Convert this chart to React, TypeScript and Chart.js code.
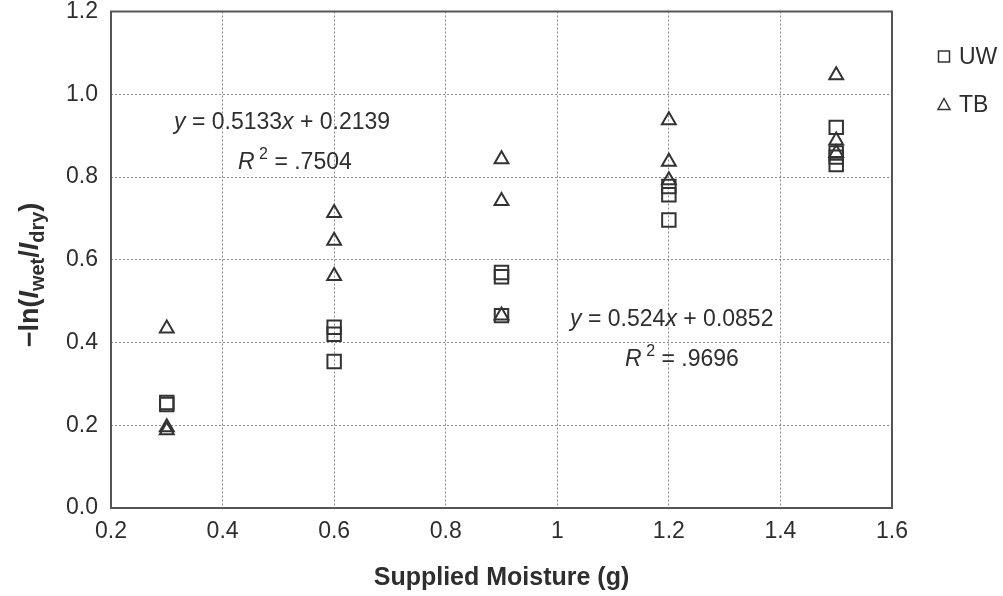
import React, { useEffect, useRef } from 'react';
import { Chart, registerables } from 'chart.js';

Chart.register(...registerables);

const seriesNames = ['UW', 'TB'];
const moistureUW = [0.3, 0.3, 0.6, 0.6, 0.6, 0.9, 0.9, 0.9, 1.2, 1.2, 1.2, 1.5, 1.5, 1.5, 1.5];
const valuesUW = [0.255, 0.25, 0.437, 0.42, 0.354, 0.569, 0.559, 0.465, 0.777, 0.757, 0.696, 0.92, 0.858, 0.848, 0.83];
const moistureTB = [0.3, 0.3, 0.3, 0.6, 0.6, 0.6, 0.9, 0.9, 0.9, 1.2, 1.2, 1.2, 1.5, 1.5, 1.5];
const valuesTB = [0.434, 0.195, 0.188, 0.713, 0.646, 0.561, 0.843, 0.742, 0.465, 0.937, 0.837, 0.792, 1.046, 0.888, 0.858];

const xMin = 0.2, xMax = 1.6, xStep = 0.2;
const yMin = 0, yMax = 1.2, yStep = 0.2;

const xTitle = 'Supplied Moisture (g)';
// fit annotations: [slope, intercept, r2] and anchor positions in data units
const fitTB = ['0.5133', '0.2139', '.7504'];
const fitUW = ['0.524', '0.0852', '.9696'];
const fitTBAnchor = [0.313, 0.916];
const fitUWAnchor = [1.023, 0.441];

const FONT = '"Liberation Sans", Arial, sans-serif';
const INK = '#2e2e2e';

type Seg = { t: string; italic?: boolean; bold?: boolean; size: number; dy?: number };

function segFont(s: Seg) {
  return `${s.italic ? 'italic ' : ''}${s.bold ? 'bold ' : ''}${s.size}px ${FONT}`;
}
function richWidth(ctx: CanvasRenderingContext2D, segs: Seg[]) {
  let w = 0;
  for (const s of segs) { ctx.font = segFont(s); w += ctx.measureText(s.t).width; }
  return w;
}
function drawRich(ctx: CanvasRenderingContext2D, segs: Seg[], x: number, y: number) {
  let cx = x;
  for (const s of segs) {
    ctx.font = segFont(s);
    ctx.fillText(s.t, cx, y + (s.dy || 0));
    cx += ctx.measureText(s.t).width;
  }
}

const decorPlugin = {
  id: 'decor',
  afterDraw(chart: any) {
    const ctx: CanvasRenderingContext2D = chart.ctx;
    const { left, right, top, bottom } = chart.chartArea;
    const xs = chart.scales.x, ys = chart.scales.y;
    ctx.save();
    // frame
    ctx.strokeStyle = '#555';
    ctx.lineWidth = 2;
    ctx.strokeRect(left, top, right - left, bottom - top);

    ctx.fillStyle = INK;
    ctx.textBaseline = 'alphabetic';
    ctx.textAlign = 'left';
    const fs = 23;
    const drawFit = (fit: string[], anchor: number[], r2dx: number) => {
      const ax = xs.getPixelForValue(anchor[0]);
      const ay = ys.getPixelForValue(anchor[1]);
      drawRich(ctx, [
        { t: 'y', italic: true, size: fs },
        { t: ` = ${fit[0]}`, size: fs },
        { t: 'x', italic: true, size: fs },
        { t: ` + ${fit[1]}`, size: fs },
      ], ax, ay);
      drawRich(ctx, [
        { t: 'R', italic: true, size: fs },
        { t: ' 2', size: 16, dy: -10 },
        { t: ` = ${fit[2]}`, size: fs },
      ], ax + r2dx, ay + 40);
    };
    drawFit(fitTB, fitTBAnchor, 64);
    drawFit(fitUW, fitUWAnchor, 55);

    // legend
    const lx = right + 52;
    ctx.strokeStyle = '#333';
    ctx.lineWidth = 1.5;
    ctx.strokeRect(lx - 5.5, top + 45 - 5.5, 11, 11);
    ctx.beginPath();
    ctx.moveTo(lx, top + 93 - 6);
    ctx.lineTo(lx + 6, top + 93 + 5);
    ctx.lineTo(lx - 6, top + 93 + 5);
    ctx.closePath();
    ctx.stroke();
    ctx.font = `23px ${FONT}`;
    ctx.textBaseline = 'middle';
    ctx.fillText(seriesNames[0], lx + 15, top + 46);
    ctx.fillText(seriesNames[1], lx + 15, top + 94);

    // x title
    ctx.textAlign = 'center';
    ctx.textBaseline = 'middle';
    ctx.font = `bold 25px ${FONT}`;
    ctx.fillText(xTitle, (left + right) / 2, 578);

    // y title (rotated, rich)
    const ySegs: Seg[] = [
      { t: '\u2212ln(', bold: true, size: 27 },
      { t: 'I', bold: true, italic: true, size: 27 },
      { t: 'wet', bold: true, size: 20, dy: 6 },
      { t: '/', bold: true, size: 27 },
      { t: 'I', bold: true, italic: true, size: 27 },
      { t: 'dry', bold: true, size: 20, dy: 6 },
      { t: ')', bold: true, size: 27 },
    ];
    ctx.textAlign = 'left';
    ctx.textBaseline = 'alphabetic';
    const w = richWidth(ctx, ySegs);
    ctx.translate(38, 275);
    ctx.rotate(-Math.PI / 2);
    drawRich(ctx, ySegs, -w / 2, 0);
    ctx.restore();
  },
};

export default function App() {
  const ref = useRef<HTMLCanvasElement>(null);
  useEffect(() => {
    if (!ref.current) return;
    const chart = new Chart(ref.current, {
      type: 'scatter',
      data: {
        datasets: [
          {
            label: seriesNames[0],
            data: moistureUW.map((x, i) => ({ x, y: valuesUW[i] })),
            pointStyle: 'rect',
            pointRadius: 9.5,
            borderColor: '#333',
            borderWidth: 2,
            backgroundColor: 'rgba(0,0,0,0)',
          },
          {
            label: seriesNames[1],
            data: moistureTB.map((x, i) => ({ x, y: valuesTB[i] })),
            pointStyle: 'triangle',
            pointRadius: 8,
            borderColor: '#333',
            borderWidth: 2,
            backgroundColor: 'rgba(0,0,0,0)',
          },
        ],
      },
      options: {
        responsive: false,
        animation: false,
        layout: { padding: { left: 0, top: 10, right: 111, bottom: 0 } },
        plugins: { legend: { display: false }, tooltip: { enabled: false } },
        scales: {
          x: {
            type: 'linear',
            min: xMin,
            max: xMax,
            ticks: {
              stepSize: xStep,
              padding: 10,
              color: INK,
              font: { family: FONT, size: 23 },
              callback: (v: any) => (Math.abs(v - 1) < 1e-9 ? '1' : Number(v).toFixed(1)),
            },
            grid: { color: '#8c8c8c', lineWidth: 1, drawTicks: false },
            border: { display: false, dash: [2, 2] },
            afterFit: (s: any) => { s.height = 88; s.paddingLeft = 0; s.paddingRight = 0; },
          },
          y: {
            type: 'linear',
            min: yMin,
            max: yMax,
            ticks: {
              stepSize: yStep,
              padding: 13,
              color: INK,
              font: { family: FONT, size: 23 },
              callback: (v: any) => Number(v).toFixed(1),
            },
            grid: { color: '#8c8c8c', lineWidth: 1, drawTicks: false },
            border: { display: false, dash: [2, 2] },
            afterFit: (s: any) => { s.width = 111; s.paddingTop = 0; s.paddingBottom = 0; },
          },
        },
      },
      plugins: [decorPlugin],
    });
    return () => chart.destroy();
  }, []);
  return (
    <div style={{ position: 'fixed', left: 0, top: 0, width: 1003, height: 596, background: '#fff' }}>
      <canvas ref={ref} width={1003} height={596} style={{ display: 'block' }} />
    </div>
  );
}
